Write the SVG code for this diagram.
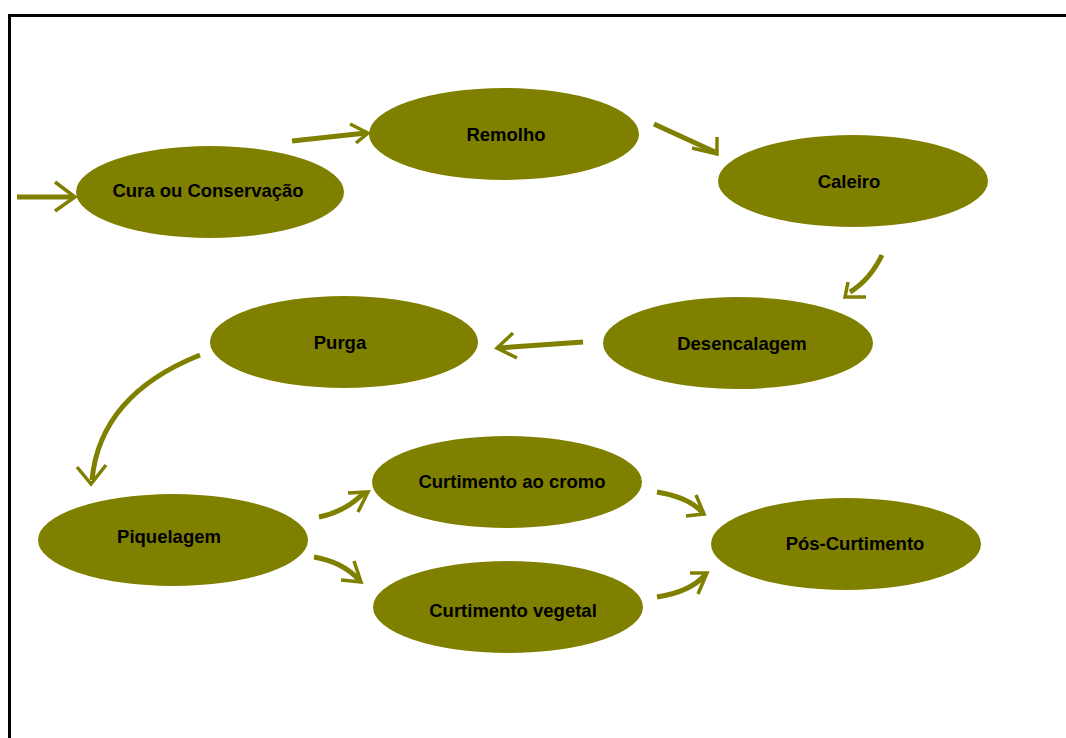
<svg xmlns="http://www.w3.org/2000/svg" width="1066" height="738" viewBox="0 0 1066 738">
<style>
.node ellipse{fill:#808000;}
.node text{font-family:"Liberation Sans",Arial,sans-serif;font-weight:bold;font-size:18.5px;fill:#000;text-anchor:middle;}
.conn path{fill:none;stroke:#808000;stroke-width:5;stroke-linecap:butt;}
.conn polyline{fill:none;stroke:#808000;stroke-width:3.5;stroke-linejoin:miter;}
.frame{fill:none;stroke:#000;stroke-width:3;}
</style>
<rect x="0" y="0" width="1066" height="738" fill="#fff"/>
<path class="frame" d="M9.5,738 V15.5 H1066"/>
<g id="connectors" class="conn">
<path d="M17,197 H74"/><polyline points="55,182 75,197 55,211"/>
<path d="M292,141 L366,133"/><polyline points="350,124 368,133 356,143"/>
<path d="M654,124 L715,152"/><polyline points="717,137 717,154 692,148"/>
<path d="M882,255 Q870,280 850,292"/><polyline points="848,282 845,297 866,297"/>
<path d="M583,342 L499,348"/><polyline points="513,333 497,348 517,358"/>
<path d="M200,355 Q100,395 92,480"/><polyline points="77,467 91,484 106,465"/>
<path d="M319,517 Q345,512 365,492"/><polyline points="348,493 368,492 358,512"/>
<path d="M314,557 Q343,562 359,580"/><polyline points="341,580 361,582 354,561"/>
<path d="M657,492 Q688,497 702,512"/><polyline points="696,495 704,514 686,516"/>
<path d="M657,597 Q690,592 705,575"/><polyline points="690,573 707,573 698,594"/>
</g>
<g id="cura" class="node"><ellipse cx="210" cy="192" rx="134" ry="46"/><text x="208" y="197">Cura ou Conservação</text></g>
<g id="remolho" class="node"><ellipse cx="504" cy="134" rx="135" ry="46"/><text x="506" y="141">Remolho</text></g>
<g id="caleiro" class="node"><ellipse cx="853" cy="181" rx="135" ry="46"/><text x="849" y="188">Caleiro</text></g>
<g id="desencalagem" class="node"><ellipse cx="738" cy="343" rx="135" ry="46"/><text x="742" y="350">Desencalagem</text></g>
<g id="purga" class="node"><ellipse cx="344" cy="342" rx="134" ry="46"/><text x="340" y="349">Purga</text></g>
<g id="piquelagem" class="node"><ellipse cx="173" cy="540" rx="135" ry="46"/><text x="169" y="543">Piquelagem</text></g>
<g id="cromo" class="node"><ellipse cx="507" cy="482" rx="135" ry="46"/><text x="512" y="488">Curtimento ao cromo</text></g>
<g id="vegetal" class="node"><ellipse cx="508" cy="607" rx="135" ry="46"/><text x="513" y="617">Curtimento vegetal</text></g>
<g id="pos" class="node"><ellipse cx="846" cy="544" rx="135" ry="46"/><text x="855" y="550">Pós-Curtimento</text></g>
</svg>
